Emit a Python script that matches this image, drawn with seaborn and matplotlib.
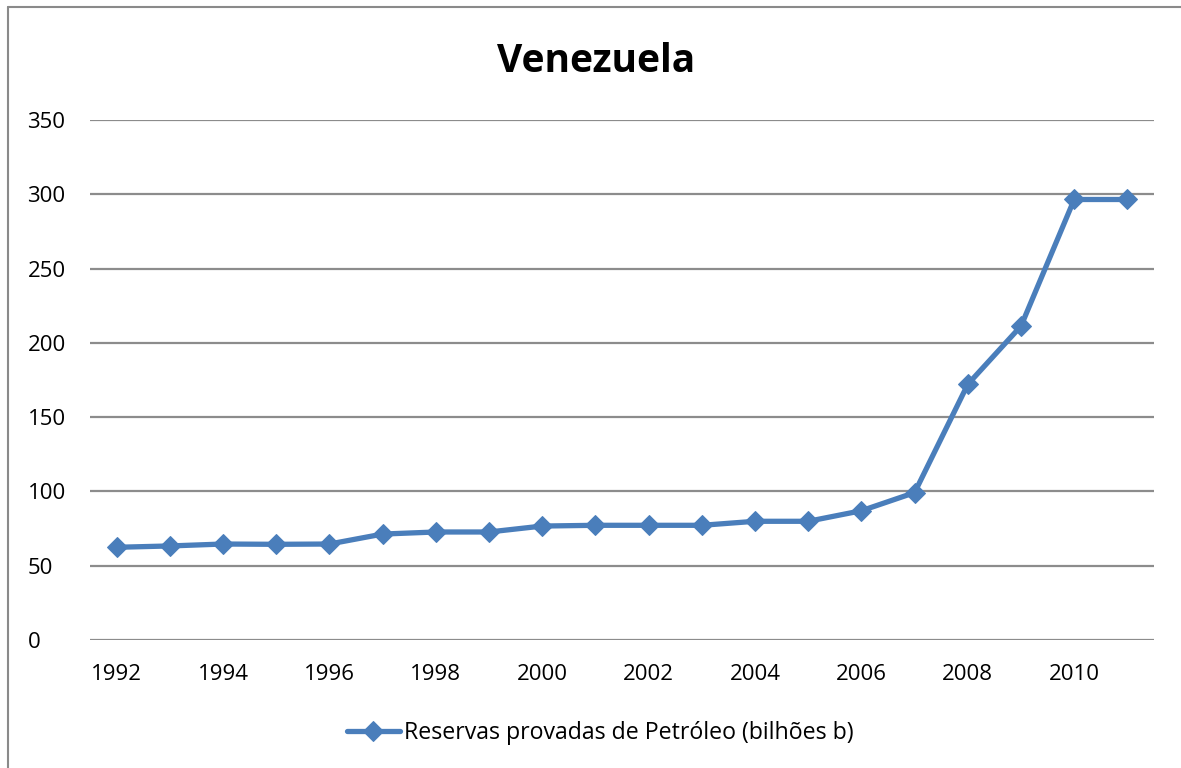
import matplotlib
matplotlib.use("Agg")
import matplotlib.pyplot as plt
import seaborn as sns
import pandas as pd

years = list(range(1992, 2012))
reserves = [62.4, 63.3, 64.6, 64.4, 64.6, 71.3, 72.7, 72.7, 76.7, 77.2,
            77.2, 77.2, 79.9, 79.9, 87.0, 99.2, 172.1, 211.3, 296.5, 296.5]
series_label = "Reservas provadas de Petróleo (bilhões b)"
title_text = "Venezuela"
yticks = [0, 50, 100, 150, 200, 250, 300, 350]
xticks = list(range(1992, 2012, 2))

df = pd.DataFrame({"ano": years, "reservas": reserves})

sns.set_theme(style="white")
plt.rcParams["font.family"] = ["Open Sans", "DejaVu Sans"]
plt.rcParams["text.color"] = "black"

blue = "#4A7EBB"
grid_gray = "#8C8C8C"

fig = plt.figure(figsize=(11.81, 7.68), dpi=100)
ax = fig.add_axes([90 / 1181, 1 - 640 / 768, (1154 - 90) / 1181, (640 - 120) / 768])

sns.lineplot(data=df, x="ano", y="reservas", ax=ax, color=blue, linewidth=3.8,
             marker="D", markersize=10.5, markeredgecolor=blue, label=series_label)

ax.set_xlim(1991.5, 2011.5)
ax.set_ylim(0, 350)
ax.set_yticks(yticks)
ax.set_xticks(xticks)
ax.set_xticklabels([str(x) for x in xticks])
ax.set_xlabel("")
ax.set_ylabel("")
for s in ax.spines.values():
    s.set_visible(False)
ax.yaxis.grid(True, color=grid_gray, linewidth=1.6)
ax.set_axisbelow(True)
ax.tick_params(axis="both", length=0, labelsize=16, colors="black")
ax.tick_params(axis="y", pad=45)
ax.tick_params(axis="x", pad=17)
for lab in ax.get_yticklabels():
    lab.set_horizontalalignment("left")

ax.legend_.remove()
leg = fig.legend(handles=ax.get_lines()[:1], labels=[series_label],
                 loc="center", bbox_to_anchor=(600 / 1181, 1 - 733 / 768),
                 frameon=False, fontsize=16.7, handlelength=2.3, handletextpad=0.15)

fig.text(596 / 1181, 1 - 62 / 768, title_text, ha="center", va="center",
         fontsize=28, fontweight="bold", color="black")

# chart-area frame
fig.add_artist(plt.Line2D([8 / 1181, 8 / 1181], [0, 1 - 7 / 768],
                          transform=fig.transFigure, color="#8A8A8A", linewidth=1.5))
fig.add_artist(plt.Line2D([8 / 1181, 1], [1 - 7 / 768, 1 - 7 / 768],
                          transform=fig.transFigure, color="#8A8A8A", linewidth=1.5))

fig.savefig("out.png", dpi=100)
